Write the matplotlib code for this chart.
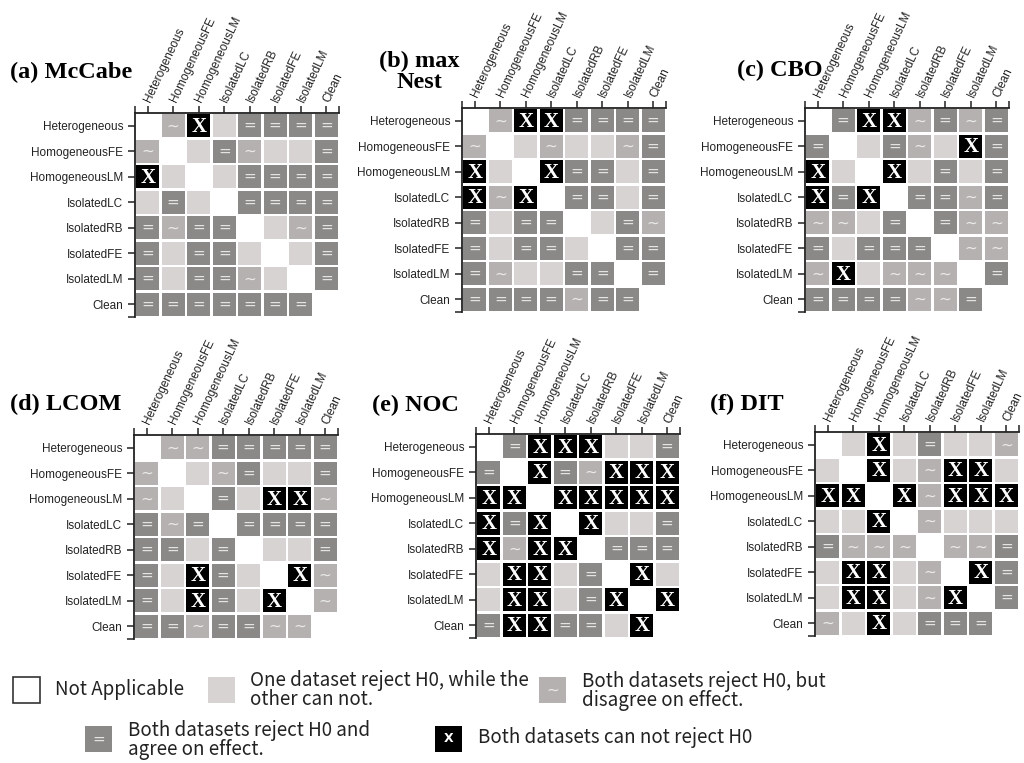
import matplotlib.pyplot as plt
from matplotlib.patches import Rectangle

labels = ["Heterogeneous", "HomogeneousFE", "HomogeneousLM", "IsolatedLC",
          "IsolatedRB", "IsolatedFE", "IsolatedLM", "Clean"]

# 0 = not applicable, 1 = one dataset rejects, 2 = ~ (disagree), 3 = = (agree), 4 = X (none rejects)
mccabe = [[0, 2, 4, 1, 3, 3, 3, 3],
          [2, 0, 1, 3, 2, 1, 1, 3],
          [4, 1, 0, 1, 3, 3, 3, 3],
          [1, 3, 1, 0, 3, 3, 3, 3],
          [3, 2, 3, 3, 0, 1, 2, 3],
          [3, 1, 3, 3, 1, 0, 1, 3],
          [3, 1, 3, 3, 2, 1, 0, 3],
          [3, 3, 3, 3, 3, 3, 3, 0]]

max_nest = [[0, 2, 4, 4, 3, 3, 3, 3],
            [2, 0, 1, 2, 1, 1, 2, 3],
            [4, 1, 0, 4, 3, 3, 1, 3],
            [4, 2, 4, 0, 3, 3, 1, 3],
            [3, 1, 3, 3, 0, 1, 3, 2],
            [3, 1, 3, 3, 1, 0, 3, 3],
            [3, 2, 1, 1, 3, 3, 0, 3],
            [3, 3, 3, 3, 2, 3, 3, 0]]

cbo = [[0, 3, 4, 4, 2, 3, 2, 3],
       [3, 0, 1, 3, 2, 1, 4, 3],
       [4, 1, 0, 4, 1, 3, 1, 3],
       [4, 3, 4, 0, 3, 3, 2, 3],
       [2, 2, 1, 3, 0, 3, 2, 2],
       [3, 1, 3, 3, 3, 0, 2, 2],
       [2, 4, 1, 2, 2, 2, 0, 3],
       [3, 3, 3, 3, 2, 2, 3, 0]]

lcom = [[0, 2, 2, 3, 3, 3, 3, 3],
        [2, 0, 1, 2, 3, 1, 1, 3],
        [2, 1, 0, 3, 1, 4, 4, 2],
        [3, 2, 3, 0, 3, 3, 3, 3],
        [3, 3, 1, 3, 0, 1, 1, 3],
        [3, 1, 4, 3, 1, 0, 4, 2],
        [3, 1, 4, 3, 1, 4, 0, 2],
        [3, 3, 2, 3, 3, 2, 2, 0]]

noc = [[0, 3, 4, 4, 4, 1, 1, 3],
       [3, 0, 4, 3, 2, 4, 4, 4],
       [4, 4, 0, 4, 4, 4, 4, 4],
       [4, 3, 4, 0, 4, 1, 1, 3],
       [4, 2, 4, 4, 0, 3, 3, 3],
       [1, 4, 4, 1, 3, 0, 4, 1],
       [1, 4, 4, 1, 3, 4, 0, 4],
       [3, 4, 4, 3, 3, 1, 4, 0]]

dit = [[0, 1, 4, 1, 3, 1, 1, 2],
       [1, 0, 4, 1, 2, 4, 4, 1],
       [4, 4, 0, 4, 2, 4, 4, 4],
       [1, 1, 4, 0, 2, 1, 1, 1],
       [3, 2, 2, 2, 0, 2, 2, 3],
       [1, 4, 4, 1, 2, 0, 4, 3],
       [1, 4, 4, 1, 2, 4, 0, 3],
       [2, 1, 4, 1, 3, 3, 3, 0]]

matrices = [mccabe, max_nest, cbo, lcom, noc, dit]
titles = ["(a) McCabe", "(b) max\nNest", "(c) CBO", "(d) LCOM", "(e) NOC", "(f) DIT"]

legend_texts = ["Not Applicable",
                "One dataset reject H0, while the\nother can not.",
                "Both datasets reject H0, but\ndisagree on effect.",
                "Both datasets reject H0 and\nagree on effect.",
                "Both datasets can not reject H0"]

colors = {0: "white", 1: "#d8d3d3", 2: "#b5b1b1", 3: "#8b8888", 4: "black"}
marks = {0: "", 1: "", 2: "~", 3: "=", 4: "X"}

W, H = 1024, 763
fig = plt.figure(figsize=(W / 100, H / 100), dpi=100)

# pixel positions of each matrix (left, top) and its size
panel_pos = [(135, 113), (462, 108), (805, 108), (134, 435), (476, 434), (815, 432)]
size = 204


def draw_mark(ax, x, y, code, small=False):
    m = marks[code]
    if m == "X":
        if small:
            ax.text(x, y, "X", ha="center", va="center", color="white",
                    fontsize=9, fontweight="bold", family="DejaVu Sans")
        else:
            ax.text(x, y + 0.03, "X", ha="center", va="center", color="white",
                    fontsize=15, fontweight="bold", family="Liberation Serif")
    elif m:
        col = "#e4e2e2" if code == 3 else "#ebe9e9"
        ax.text(x, y, m, ha="center", va="center", color=col,
                fontsize=11, family="DejaVu Sans")


for mat, (px, py) in zip(matrices, panel_pos):
    ax = fig.add_axes([px / W, 1 - (py + size) / H, size / W, size / H])
    ax.set_xlim(-0.5, 7.5)
    ax.set_ylim(7.5, -0.5)
    for i, row in enumerate(mat):
        for j, v in enumerate(row):
            if v == 0:
                continue
            ax.add_patch(Rectangle((j - 0.46, i - 0.46), 0.92, 0.92,
                                   facecolor=colors[v], edgecolor="none"))
            draw_mark(ax, j, i, v)
    ax.xaxis.tick_top()
    ax.set_xticks(range(8))
    ax.set_xticklabels(labels, rotation=65, ha="left", va="center",
                       rotation_mode="anchor", family="Liberation Sans", color="#222222")
    ax.set_yticks(range(8))
    ax.set_yticklabels(labels, family="Liberation Sans", color="#222222")
    ax.set_xticks([-0.5, 7.5], minor=True)
    ax.set_yticks([7.5], minor=True)
    ax.tick_params(which="both", length=5, width=1.1, labelsize=8.5, color="#222222")
    ax.tick_params(axis="x", which="major", pad=3)
    ax.spines["right"].set_visible(False)
    ax.spines["bottom"].set_visible(False)
    ax.spines["top"].set_linewidth(1.3)
    ax.spines["left"].set_linewidth(1.3)
    ax.spines["top"].set_color("#222222")
    ax.spines["left"].set_color("#222222")
    ax.patch.set_alpha(0)

# overlay in pixel coordinates for titles and legend
ov = fig.add_axes([0, 0, 1, 1])
ov.set_xlim(0, W)
ov.set_ylim(H, 0)
ov.axis("off")

title_pos = [(10, 72, "left"), (419, 72, "center"), (737, 70, "left"),
             (10, 404, "left"), (372, 405, "left"), (710, 404, "left")]
for t, (tx, ty, ha) in zip(titles, title_pos):
    ov.text(tx, ty, t, ha=ha, va="center", fontsize=17.5, fontweight="bold",
            family="Liberation Serif", linespacing=1.05, multialignment="center")

legend_font = ["Noto Sans CJK JP", "DejaVu Sans"]
legend_boxes = [(13, 677, 0), (208, 677, 1), (539, 677, 2), (85, 726, 3), (435, 726, 4)]
legend_text_pos = [(55, 689), (250, 690), (582, 691), (128, 740), (478, 738)]
for (bx, by, code), txt, (tx, ty) in zip(legend_boxes, legend_texts, legend_text_pos):
    ec = "#333333" if code == 0 else "none"
    ov.add_patch(Rectangle((bx, by), 27, 26, facecolor=colors[code], edgecolor=ec, linewidth=1.2))
    draw_mark(ov, bx + 13.5, by + 13, code, small=True)
    ov.text(tx, ty, txt, ha="left", va="center", fontsize=13.5, family=legend_font,
            linespacing=0.85, color="#222222")

fig.savefig("out.png", dpi=100)
